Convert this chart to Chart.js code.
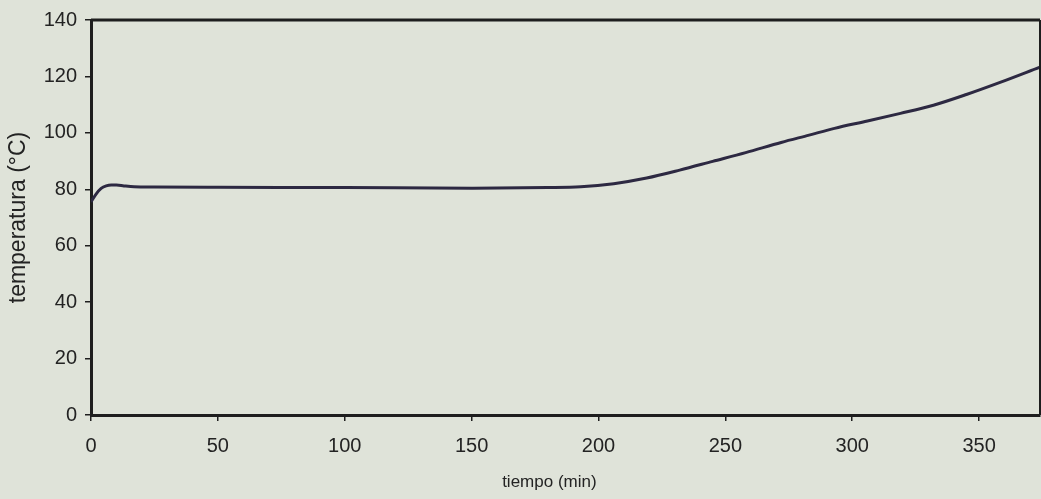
<!DOCTYPE html>
<html>
<head>
<meta charset="utf-8">
<script src="https://cdn.jsdelivr.net/npm/chart.js@4"></script>
<style>
    html, body { margin: 0; padding: 0; background: #dfe3d9; }
    #wrap { width: 1041px; height: 499px; }
</style>
</head>
<body>
<div id="wrap"><canvas id="tempChart" width="1041" height="499"></canvas></div>
<script>
// tiempo (min) y temperatura (°C)
const tiempo = [0, 2, 4, 6, 8, 10, 13, 17, 25, 50, 100, 150, 180, 193, 206, 219, 232, 245, 258, 272, 283, 293, 306, 319, 332, 345, 358, 374];
const temperatura = [75.5, 78.3, 80.3, 81.2, 81.5, 81.5, 81.2, 80.9, 80.8, 80.7, 80.6, 80.4, 80.6, 80.9, 82.0, 84.0, 86.8, 89.9, 93.0, 96.6, 99.2, 101.6, 104.2, 106.9, 109.8, 113.6, 117.8, 123.3];
const xTicks = [0, 50, 100, 150, 200, 250, 300, 350];
const yTicks = [0, 20, 40, 60, 80, 100, 120, 140];

const ink = '#1e1e1e';
const textColor = '#232323';
const fontFamily = 'Liberation Sans, Arial, sans-serif';

// marco superior y derecho + título del eje x (algo desplazado a la izquierda, como en el original)
const framePlugin = {
    id: 'frame',
    afterDraw(chart) {
        const { ctx, chartArea: a } = chart;
        ctx.save();
        ctx.strokeStyle = ink;
        ctx.lineWidth = 3;
        ctx.beginPath();
        ctx.moveTo(a.left, a.top);
        ctx.lineTo(a.right, a.top);
        ctx.stroke();
        ctx.lineWidth = 2;
        ctx.beginPath();
        ctx.moveTo(a.right, a.top);
        ctx.lineTo(a.right, a.bottom);
        ctx.stroke();

        ctx.fillStyle = textColor;
        ctx.font = '17px ' + fontFamily;
        ctx.textAlign = 'center';
        ctx.textBaseline = 'middle';
        ctx.fillText('tiempo (min)', a.left + (a.right - a.left) * 0.483, chart.height - 17);
        ctx.restore();
    }
};

const ctx = document.getElementById('tempChart').getContext('2d');
new Chart(ctx, {
    type: 'line',
    data: {
        datasets: [{
            data: tiempo.map((t, i) => ({ x: t, y: temperatura[i] })),
            borderColor: '#2d2942',
            borderWidth: 3,
            pointRadius: 0,
            cubicInterpolationMode: 'monotone',
            fill: false
        }]
    },
    options: {
        responsive: false,
        animation: false,
        layout: { padding: { top: 17, right: 1, left: 0, bottom: 0 } },
        plugins: {
            legend: { display: false },
            tooltip: { enabled: false }
        },
        scales: {
            x: {
                type: 'linear',
                min: 0,
                max: 374,
                afterBuildTicks: (scale) => { scale.ticks = xTicks.map(v => ({ value: v })); },
                afterFit: (scale) => { scale.height = 84; },
                border: { display: true, color: ink, width: 3 },
                grid: { drawOnChartArea: false, drawTicks: true, tickLength: 6, color: ink, lineWidth: 1.5 },
                ticks: {
                    padding: 13,
                    color: textColor,
                    font: { family: fontFamily, size: 20 }
                }
            },
            y: {
                min: 0,
                max: 140,
                afterBuildTicks: (scale) => { scale.ticks = yTicks.map(v => ({ value: v })); },
                afterFit: (scale) => { scale.width = 91; },
                border: { display: true, color: ink, width: 3 },
                grid: { drawOnChartArea: false, drawTicks: true, tickLength: 6, color: ink, lineWidth: 1.5 },
                ticks: {
                    padding: 8,
                    color: textColor,
                    font: { family: fontFamily, size: 20 }
                },
                title: {
                    display: true,
                    text: 'temperatura (°C)',
                    color: textColor,
                    padding: { top: 5, bottom: 0 },
                    font: { family: fontFamily, size: 23 }
                }
            }
        }
    },
    plugins: [framePlugin]
});
</script>
</body>
</html>
